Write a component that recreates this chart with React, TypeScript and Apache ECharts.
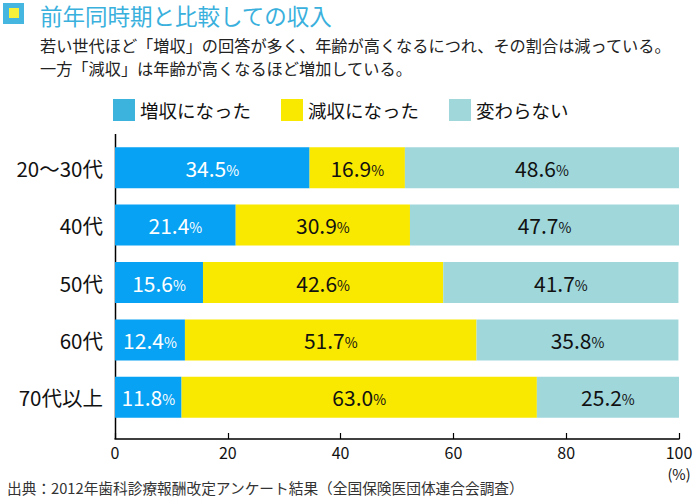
import React, { useEffect, useRef } from "react";
import * as echarts from "echarts";

const categories = ["20～30代", "40代", "50代", "60代", "70代以上"];
const seriesNames = ["増収になった", "減収になった", "変わらない"];
const increased = [34.5, 21.4, 15.6, 12.4, 11.8];
const decreased = [16.9, 30.9, 42.6, 51.7, 63.0];
const unchanged = [48.6, 47.7, 41.7, 35.8, 25.2];
const barColors = ["#07a2f3", "#f9e800", "#9fd7db"];
const legendColors = ["#3bb3dc", "#f9e800", "#9fd7db"];
const labelColors = ["#ffffff", "#111111", "#111111"];

const titleText = "前年同時期と比較しての収入";
const subtitleLines = [
  "若い世代ほど「増収」の回答が多く、年齢が高くなるにつれ、その割合は減っている。",
  "一方「減収」は年齢が高くなるほど増加している。",
];
const footerText = "出典：2012年歯科診療報酬改定アンケート結果（全国保険医団体連合会調査）";

const FONT = "'Noto Sans CJK JP', 'Noto Sans', sans-serif";

export default function App() {
  const ref = useRef<HTMLDivElement>(null);
  useEffect(() => {
    if (!ref.current) return;
    const chart = echarts.init(ref.current, null, { renderer: "svg" });
    const values = [increased, decreased, unchanged];
    chart.setOption({
      animation: false,
      backgroundColor: "#ffffff",
      textStyle: { fontFamily: FONT },
      legend: {
        top: 99,
        left: 113,
        padding: 0,
        itemWidth: 22,
        itemHeight: 22,
        itemGap: 30,
        icon: "rect",
        textStyle: { fontSize: 18.5, color: "#111", fontFamily: FONT },
        data: seriesNames.map((n, i) => ({ name: n, itemStyle: { color: legendColors[i] } })),
      },
      grid: { left: 115, right: 21, top: 139, height: 287 },
      xAxis: {
        type: "value",
        min: 0,
        max: 100,
        interval: 20,
        offset: 13,
        axisLine: { show: true, lineStyle: { color: "#000", width: 1.5 } },
        axisTick: { show: true, inside: true, length: 6, lineStyle: { color: "#000", width: 1.2 } },
        splitLine: { show: false },
        axisLabel: { fontSize: 16, lineHeight: 16, color: "#111", margin: 5, fontFamily: FONT },
      },
      yAxis: {
        type: "category",
        data: categories,
        inverse: true,
        axisLine: { show: false },
        axisTick: { show: false },
        axisLabel: { fontSize: 20.5, color: "#111", margin: 12, fontFamily: FONT },
      },
      series: seriesNames.map((name, i) => ({
        name,
        type: "bar",
        stack: "total",
        barWidth: 41,
        data: values[i],
        itemStyle: { color: barColors[i] },
        label: {
          show: true,
          position: "inside",
          formatter: (p: any) => `{n|${p.value.toFixed(1)}}{p|%}`,
          rich: {
            n: { fontSize: 21, color: labelColors[i], fontFamily: FONT },
            p: { fontSize: 14, color: labelColors[i], fontFamily: FONT, padding: [4, 0, 0, 0] },
          },
        },
      })),
      graphic: [
        { type: "rect", shape: { x: 3, y: 3, width: 21, height: 21 }, style: { fill: "#44b6e0" } },
        { type: "rect", shape: { x: 9, y: 8, width: 10, height: 10 }, style: { fill: "#f6f03a" } },
        {
          type: "text",
          x: 40,
          y: 15,
          style: { text: titleText, fontSize: 22.5, lineHeight: 26, fill: "#3ab0dd", fontFamily: FONT, verticalAlign: "middle" },
        },
        {
          type: "text",
          x: 40,
          y: 45,
          style: { text: subtitleLines[0], fontSize: 16.2, fill: "#222", fontFamily: FONT, verticalAlign: "middle" },
        },
        {
          type: "text",
          x: 40,
          y: 68,
          style: { text: subtitleLines[1], fontSize: 16.2, fill: "#222", fontFamily: FONT, verticalAlign: "middle" },
        },
        { type: "line", shape: { x1: 115.5, y1: 134, x2: 115.5, y2: 439 }, style: { stroke: "#000", lineWidth: 1.5 } },
        {
          type: "text",
          x: 679,
          y: 473,
          style: { text: "(%)", fontSize: 14.5, lineHeight: 15, fill: "#111", fontFamily: FONT, align: "center", verticalAlign: "middle" },
        },
        {
          type: "text",
          x: 7,
          y: 487,
          style: { text: footerText, fontSize: 14.7, fill: "#333", fontFamily: FONT, verticalAlign: "middle" },
        },
      ],
    });
    return () => chart.dispose();
  }, []);
  return <div ref={ref} style={{ width: 700, height: 500, position: "absolute", left: 0, top: 0 }} />;
}
